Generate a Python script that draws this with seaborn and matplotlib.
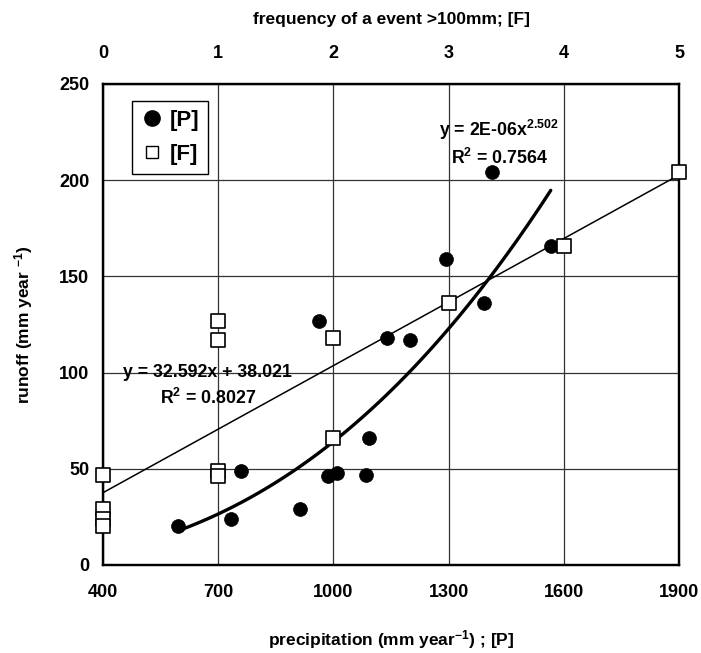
import numpy as np
import pandas as pd
import matplotlib
matplotlib.use("Agg")
import matplotlib.pyplot as plt
import seaborn as sns
from matplotlib.lines import Line2D

# precipitation series [P]
precip = [595, 733, 759, 913, 963, 985, 1010, 1084, 1093, 1140, 1199, 1293, 1392, 1414, 1566]
runoff_p = [20, 24, 49, 29, 127, 46, 48, 47, 66, 118, 117, 159, 136, 204, 166]

# frequency series [F]
freq = [0, 0, 0, 0, 1, 1, 1, 1, 2, 2, 3, 4, 5]
runoff_f = [47, 29, 24, 20, 127, 117, 49, 46, 118, 66, 136, 166, 204]

sns.set_style("white")
plt.rcParams["font.family"] = ["Liberation Sans", "DejaVu Sans"]
plt.rcParams["font.weight"] = "bold"
plt.rcParams["axes.labelweight"] = "bold"
plt.rcParams["text.color"] = "black"
plt.rcParams["axes.labelcolor"] = "black"
plt.rcParams["xtick.color"] = "black"
plt.rcParams["ytick.color"] = "black"
plt.rcParams["mathtext.fontset"] = "custom"
plt.rcParams["mathtext.rm"] = "Liberation Sans:bold"
plt.rcParams["mathtext.bf"] = "Liberation Sans:bold"
plt.rcParams["mathtext.default"] = "rm"

fig = plt.figure(figsize=(7.01, 6.53), dpi=100)
ax = fig.add_axes([0.147, 0.1348, 0.8216, 0.7366])

# power trend for [P]
b, log_a = np.polyfit(np.log(precip), np.log(runoff_p), 1)
px = np.linspace(min(precip), max(precip), 100)
curva = pd.DataFrame({"P": px, "R": np.exp(log_a) * px ** b})
sns.lineplot(data=curva, x="P", y="R", ax=ax, color="black", lw=2.4, zorder=2)
sns.scatterplot(x=precip, y=runoff_p, ax=ax, color="black", s=100, marker="o",
                edgecolor="black", linewidth=0.5, zorder=3)

ax.set_xlim(400, 1900)
ax.set_ylim(0, 250)
ax.set_xticks(range(400, 2000, 300))
ax.set_yticks(range(0, 300, 50))
ax.grid(True, color="#333333", lw=0.9)
ax.tick_params(axis="x", length=0, pad=14, labelsize=13)
ax.tick_params(axis="y", length=0, pad=10, labelsize=13)
ax.set_xlabel("precipitation (mm year$^{-1}$) ; [P]", fontsize=12.5, labelpad=19)
ax.set_ylabel("runoff (mm year $^{-1}$)", fontsize=12.5, labelpad=17)

ax2 = ax.twiny()
sns.regplot(x=freq, y=runoff_f, ax=ax2, scatter=False, ci=None, color="black",
            line_kws={"lw": 1.1, "zorder": 2})
sns.scatterplot(x=freq, y=runoff_f, ax=ax2, color="white", edgecolor="black",
                marker="s", s=95, linewidth=1.2, zorder=4, clip_on=False)
ax2.set_xlim(0, 5)
ax2.set_ylim(0, 250)
ax2.set_xticks(range(6))
ax2.tick_params(axis="x", length=0, pad=16, labelsize=13)
ax2.set_xlabel("frequency of a event >100mm; [F]", fontsize=12.5, labelpad=15)

for a in (ax, ax2):
    for s in a.spines.values():
        s.set_color("black")
        s.set_linewidth(1.6)

ax.text(673, 100, "y = 32.592x + 38.021", ha="center", va="center", fontsize=12.8)
ax.text(673, 87, "R$^2$ = 0.8027", ha="center", va="center", fontsize=12.8)
ax.text(1432, 226, "y = 2E-06x$^{2.502}$", ha="center", va="center", fontsize=12.8)
ax.text(1432, 211.5, "R$^2$ = 0.7564", ha="center", va="center", fontsize=12.8)

handles = [Line2D([], [], marker="o", color="black", ls="none", markersize=11),
           Line2D([], [], marker="s", mfc="white", mec="black", ls="none", markersize=9)]
leg = ax2.legend(handles, ["[P]", "[F]"], loc="upper left", bbox_to_anchor=(0.05, 0.965),
                 borderaxespad=0, frameon=True, fancybox=False, edgecolor="black",
                 framealpha=1, fontsize=16, handletextpad=0.3, borderpad=0.4,
                 labelspacing=0.6, handlelength=1.0)
leg.get_frame().set_linewidth(1.0)

fig.savefig("out.png", dpi=100)
